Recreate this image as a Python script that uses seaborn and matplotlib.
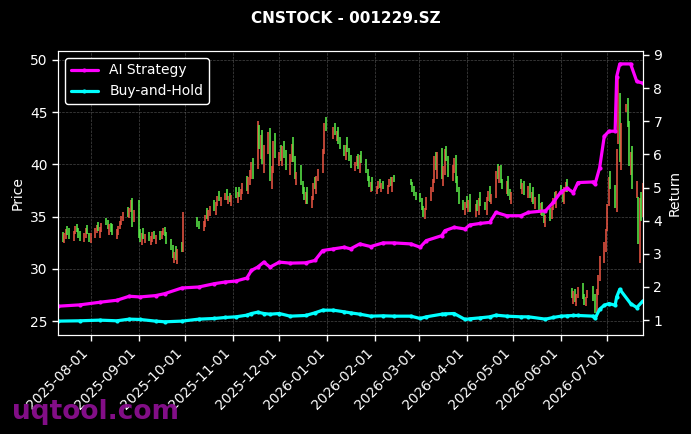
import matplotlib
matplotlib.use("Agg")
import matplotlib.pyplot as plt
import matplotlib.dates as mdates
import numpy as np
import pandas as pd
import seaborn as sns

# trading calendar (Chinese market holidays removed)
start_day = "2025-07-11"
end_day = "2026-07-24"
holidays = ["2025-10-01", "2025-10-02", "2025-10-03", "2025-10-06", "2025-10-07",
            "2025-10-08", "2026-01-01", "2026-01-02", "2026-02-16", "2026-02-17",
            "2026-02-18", "2026-02-19", "2026-02-20", "2026-02-23", "2026-04-06",
            "2026-05-01", "2026-05-04", "2026-05-05", "2026-06-19"]

# daily opens / closes, month by month
opens = [
    # Jul 2025
    32.2, 33.5, 32.5, 32.9, 34.1, 33.9, 32.7, 33.3, 34.3, 33.9, 33.6, 32.6, 33.0, 34.2, 33.4,
    # Aug
    32.5, 33.0, 33.4, 34.5, 33.0, 33.5, 34.9, 34.7, 33.2, 34.4, 34.3, 32.9, 33.2, 33.8, 34.2,
    34.6, 35.9, 34.9, 35.4, 36.8, 34.5,
    # Sep
    36.6, 33.8, 32.3, 33.9, 32.5, 33.5, 32.3, 32.6, 33.6, 32.4, 33.6, 32.9, 33.2, 34.0, 33.5,
    32.9, 32.3, 30.6, 32.2, 30.5, 32.6, 31.6,
    # Oct
    35.0, 34.6, 33.6, 34.0, 35.8, 34.6, 35.1, 36.6, 35.2, 36.0, 37.5, 36.0, 36.6, 37.6, 36.2,
    37.3, 36.0,
    # Nov
    37.8, 36.3, 37.8, 36.6, 37.2, 38.9, 37.2, 38.0, 38.6, 40.6, 39.6, 43.8, 40.5, 43.3, 39.2,
    41.0, 43.5, 37.6, 39.2, 43.0,
    # Dec
    39.8, 41.9, 39.8, 42.2, 41.4, 39.0, 40.2, 42.6, 40.8, 38.0, 39.9, 38.4, 37.8, 36.2, 37.8,
    35.8, 36.6, 38.8, 37.2, 38.4, 39.2, 41.0, 44.5,
    # Jan 2026
    42.4, 44.0, 42.2, 43.6, 42.6, 41.9, 40.4, 42.6, 41.6, 40.9, 39.4, 39.8, 41.0, 39.2, 41.3,
    40.5, 39.6, 38.9, 37.4, 38.8,
    # Feb
    37.2, 37.6, 38.6, 37.4, 38.4, 37.2, 37.8, 38.8, 37.4, 39.0, 38.6, 38.3, 37.9, 37.4,
    # Mar
    37.3, 36.8, 36.0, 34.8, 35.6, 36.5, 37.4, 38.2, 41.2, 38.6, 41.6, 37.9, 39.0, 41.8, 40.8,
    38.4, 39.2, 40.9, 38.9, 37.8, 36.6, 35.2,
    # Apr
    37.0, 35.4, 37.2, 35.0, 36.6, 35.2, 37.4, 36.4, 35.2, 36.5, 37.9, 36.2, 36.8, 40.0, 38.2,
    39.9, 38.6, 37.2, 38.9, 37.6, 36.2,
    # May
    38.6, 37.2, 38.4, 36.8, 38.2, 36.4, 37.8, 35.7, 37.2, 35.2, 36.4, 35.6, 34.0, 35.8, 34.8,
    35.6, 37.4, 35.8,
    # Jun
    38.0, 37.6, 36.2, 37.4, 38.6, 28.2, 26.6, 28.1, 26.4, 27.2, 28.6, 27.6, 26.4, 27.2, 28.4,
    27.6, 25.4, 27.5, 28.8, 30.6, 31.6,
    # Jul
    33.6, 36.0, 39.4, 38.0, 35.4, 42.0, 46.8, 39.5, 45.0, 46.4, 44.2, 39.0, 41.8, 36.8, 36.9,
    30.6, 37.4, 35.0,
]
closes = [
    # Jul 2025
    33.0, 32.6, 33.4, 33.8, 33.2, 32.9, 33.6, 34.1, 33.5, 33.0, 32.7, 33.4, 33.9, 33.3, 32.6,
    # Aug
    33.4, 33.9, 34.2, 33.6, 34.0, 34.4, 34.2, 33.8, 34.3, 33.5, 33.2, 33.8, 34.1, 34.6, 35.1,
    35.4, 35.0, 35.8, 36.6, 34.0, 35.6,
    # Sep
    33.0, 32.6, 33.4, 32.9, 33.3, 32.7, 33.1, 33.5, 32.9, 33.2, 32.8, 33.6, 33.9, 33.1, 32.4,
    31.8, 31.0, 31.6, 30.8, 31.9, 31.6, 35.4,
    # Oct
    34.0, 33.8, 34.6, 35.2, 34.8, 35.6, 36.0, 35.5, 36.4, 37.0, 36.5, 36.9, 37.3, 36.6, 37.0,
    36.4, 37.1,
    # Nov
    36.8, 37.4, 36.9, 37.6, 38.2, 37.5, 38.8, 39.5, 40.2, 38.6, 44.2, 41.5, 42.8, 40.0, 41.9,
    43.1, 38.4, 39.8, 42.2, 40.6,
    # Dec
    41.2, 40.3, 41.8, 40.6, 39.5, 41.0, 42.0, 40.2, 38.6, 39.3, 38.0, 37.2, 36.6, 37.4, 36.2,
    37.0, 38.2, 37.6, 38.9, 39.6, 41.5, 44.0, 43.2,
    # Jan 2026
    43.6, 42.8, 43.2, 42.0, 41.5, 40.8, 41.9, 41.2, 40.3, 39.7, 40.2, 40.8, 39.6, 40.9, 40.1,
    39.2, 38.4, 37.8, 38.3, 37.5,
    # Feb
    37.9, 38.4, 37.7, 38.2, 37.6, 38.0, 38.6, 37.9, 38.8, 38.3, 38.0, 37.4, 37.0, 36.6,
    # Mar
    36.4, 35.6, 35.0, 35.8, 36.9, 37.8, 38.6, 40.8, 39.5, 41.2, 38.6, 39.8, 41.5, 40.3, 38.8,
    39.9, 40.6, 38.2, 37.4, 36.2, 35.6, 36.4,
    # Apr
    35.8, 36.6, 35.4, 36.2, 35.5, 36.8, 36.0, 35.6, 36.9, 37.5, 36.4, 37.2, 39.4, 38.6, 39.8,
    38.2, 37.6, 38.4, 37.0, 36.6, 37.4,
    # May
    37.6, 38.2, 37.1, 37.9, 36.8, 37.4, 36.2, 36.9, 35.6, 36.3, 35.1, 34.4, 35.2, 34.6, 35.9,
    36.8, 36.2, 37.5,
    # Jun
    37.2, 36.4, 37.8, 38.3, 37.4, 27.2, 27.9, 26.8, 27.6, 28.3, 27.1, 26.5, 27.3, 28.0, 26.9,
    25.8, 28.1, 29.4, 31.2, 32.6, 33.8,
    # Jul
    36.2, 38.8, 37.6, 35.8, 41.5, 48.5, 40.2, 44.0, 45.8, 43.6, 39.8, 41.2, 37.6, 38.4, 32.4,
    36.8, 34.6, 38.2,
]

# strategy curves (right axis)
line_dates = ["2025-07-11", "2025-07-25", "2025-08-07", "2025-08-18", "2025-08-26",
              "2025-09-02", "2025-09-12", "2025-09-18", "2025-09-29", "2025-10-10",
              "2025-10-20", "2025-10-27", "2025-11-03", "2025-11-10", "2025-11-13",
              "2025-11-17", "2025-11-21", "2025-11-25", "2025-12-01", "2025-12-08",
              "2025-12-18", "2025-12-24", "2025-12-29", "2026-01-05", "2026-01-12",
              "2026-01-16", "2026-01-22", "2026-01-29", "2026-02-06", "2026-02-13",
              "2026-02-24", "2026-03-02", "2026-03-06", "2026-03-16", "2026-03-18",
              "2026-03-24", "2026-03-31", "2026-04-03", "2026-04-10", "2026-04-16",
              "2026-04-20", "2026-04-27", "2026-05-06", "2026-05-11", "2026-05-22",
              "2026-05-27", "2026-06-01", "2026-06-05", "2026-06-09", "2026-06-12",
              "2026-06-22", "2026-06-23", "2026-06-26", "2026-06-29", "2026-07-02",
              "2026-07-06", "2026-07-07", "2026-07-09", "2026-07-16", "2026-07-20",
              "2026-07-24"]
ai_ret = [1.42, 1.46, 1.54, 1.60, 1.72, 1.70, 1.74, 1.80, 1.97, 2.00,
          2.10, 2.15, 2.18, 2.27, 2.50, 2.60, 2.75, 2.60, 2.75, 2.72,
          2.73, 2.80, 3.10, 3.15, 3.20, 3.15, 3.30, 3.22, 3.33, 3.33,
          3.30, 3.20, 3.40, 3.55, 3.70, 3.80, 3.75, 3.87, 3.92, 3.95,
          4.25, 4.15, 4.15, 4.25, 4.30, 4.55, 4.87, 4.98, 4.85, 5.15,
          5.17, 5.10, 5.60, 6.55, 6.70, 6.70, 8.35, 8.73, 8.73, 8.20,
          8.15]
bh_ret = [0.97, 0.98, 1.00, 0.98, 1.03, 1.02, 0.97, 0.95, 0.97, 1.03,
          1.05, 1.08, 1.10, 1.15, 1.20, 1.24, 1.20, 1.18, 1.20, 1.12,
          1.14, 1.22, 1.30, 1.30, 1.25, 1.22, 1.18, 1.12, 1.13, 1.12,
          1.12, 1.05, 1.10, 1.18, 1.19, 1.20, 1.02, 1.04, 1.07, 1.10,
          1.15, 1.12, 1.10, 1.10, 1.03, 1.08, 1.12, 1.13, 1.14, 1.14,
          1.12, 1.05, 1.33, 1.45, 1.50, 1.45, 1.70, 1.93, 1.50, 1.38,
          1.58]

UP_COLOR = "#ef5744"
DOWN_COLOR = "#5cf04a"

days = pd.bdate_range(start_day, end_day)
days = days[~days.isin(pd.to_datetime(holidays))]
n = min(len(days), len(opens), len(closes))
df = pd.DataFrame({"date": days[:n], "open": opens[:n], "close": closes[:n]})
df["color"] = np.where(df["close"] >= df["open"], UP_COLOR, DOWN_COLOR)

curves = pd.DataFrame({"date": pd.to_datetime(line_dates), "ai": ai_ret, "bh": bh_ret})

sns.set_style("dark", {"axes.facecolor": "black", "figure.facecolor": "black"})
plt.rcParams["font.family"] = ["DejaVu Sans"]

fig = plt.figure(figsize=(6.91, 4.34), dpi=100, facecolor="black")
ax = fig.add_axes([0.084, 0.228, 0.8465, 0.6545])
ax.set_facecolor("black")

ax.vlines(df["date"], df[["open", "close"]].min(axis=1), df[["open", "close"]].max(axis=1),
          colors=df["color"], linewidth=1.1)

ax2 = ax.twinx()
sns.lineplot(data=curves, x="date", y="ai", ax=ax2, color="#ff00ff", linewidth=2.3,
             marker="o", markersize=3, markeredgewidth=0, label="AI Strategy")
sns.lineplot(data=curves, x="date", y="bh", ax=ax2, color="#00ffff", linewidth=2.3,
             marker="o", markersize=3, markeredgewidth=0, label="Buy-and-Hold")

ax.set_xlim(pd.Timestamp(start_day), pd.Timestamp(end_day))
ax.set_ylim(23.66, 50.86)
ax2.set_ylim(0.55, 9.12)
ax.set_yticks([25, 30, 35, 40, 45, 50])
ax2.set_yticks(range(1, 10))

ax.xaxis.set_major_locator(mdates.MonthLocator())
ax.xaxis.set_major_formatter(mdates.DateFormatter("%Y-%m-%d"))
plt.setp(ax.get_xticklabels(), rotation=45, ha="right", rotation_mode="default")

ax.grid(True, color="#777777", linestyle="--", linewidth=0.5, alpha=0.6)
ax2.grid(False)

for a in (ax, ax2):
    a.tick_params(colors="white", labelsize=10, length=4, width=1)
    for s in a.spines.values():
        s.set_color("white")
        s.set_visible(True)
ax.tick_params(axis="x", bottom=True)
ax.tick_params(axis="y", left=True)
ax2.tick_params(axis="y", right=True)

ax.set_xlabel("")
ax2.set_xlabel("")
ax.set_ylabel("Price", color="white", fontsize=10)
ax2.set_ylabel("Return", color="white", fontsize=10)

leg = ax2.legend(loc="upper left", facecolor="black", edgecolor="white",
                 labelcolor="white", fontsize=10, framealpha=1)

fig.suptitle("CNSTOCK - 001229.SZ", color="white", fontsize=11, fontweight="bold", y=0.975)
fig.text(0.017, 0.035, "uqtool.com", color="#8a0f8f", fontsize=19, fontweight="bold",
         alpha=0.95)

fig.savefig("out.png", dpi=100, facecolor="black")
